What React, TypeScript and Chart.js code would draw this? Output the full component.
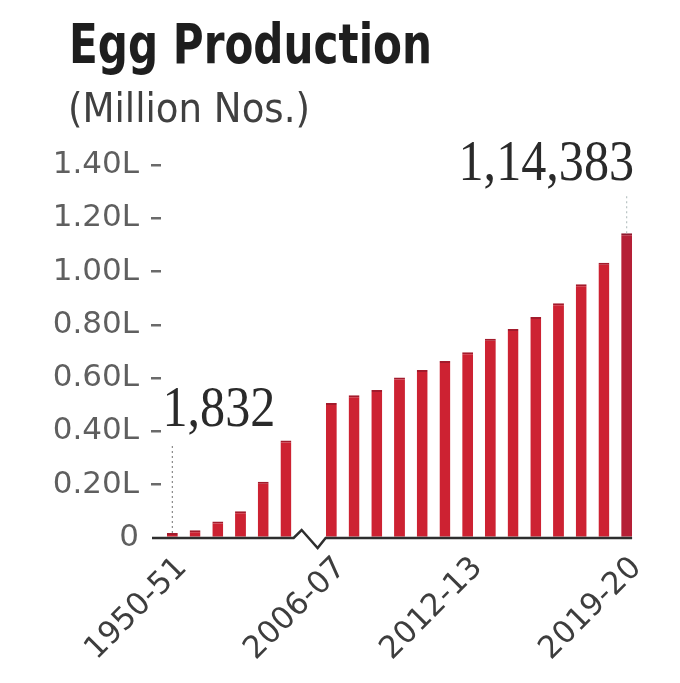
import React, { useEffect, useRef } from "react";
import { Chart, registerables } from "chart.js";

Chart.register(...registerables);

// ---- data ----
const categories = [
  "1950-51", "1960-61", "1970-71", "1980-81", "1990-91", "2000-01", "",
  "2006-07", "2007-08", "2008-09", "2009-10", "2010-11", "2011-12", "2012-13",
  "2013-14", "2014-15", "2015-16", "2016-17", "2017-18", "2018-19", "2019-20",
];
const eggProduction = [
  1832, 2881, 6172, 10060, 21101, 36632, null,
  50663, 53583, 55562, 60267, 63024, 66450, 69731,
  74752, 78484, 82929, 88139, 95217, 103318, 114383,
];
const shownLabels = ["1950-51", "2006-07", "2012-13", "2019-20"];
const yTicks = [0, 20000, 40000, 60000, 80000, 100000, 120000, 140000];
const annotationCategories = ["1950-51", "2019-20"];
const annotationTexts = ["1,832", "1,14,383"];
const annotationLevels = [42000, 134500];
const titleText = "Egg Production";
const subtitleText = "(Million Nos.)";

const Y_TICK_LEN = 10;

const overlayPlugin = {
  id: "overlay",
  afterDatasetsDraw(chart: any) {
    const { ctx, chartArea, scales } = chart;
    const xs = scales.x;
    const ys = scales.y;
    const meta = chart.getDatasetMeta(0);
    const base = ys.getPixelForValue(0);

    // baseline with break
    const gapIdx = categories.indexOf("");
    const gx = xs.getPixelForValue(gapIdx);
    const lastBar = meta.data[categories.length - 1];
    const x0 = chartArea.left - Y_TICK_LEN + 1;
    const x1 = lastBar.x + lastBar.width / 2;
    ctx.save();
    ctx.strokeStyle = "#2e2e2e";
    ctx.lineWidth = 2.5;
    ctx.lineJoin = "miter";
    ctx.beginPath();
    ctx.moveTo(x0, base);
    ctx.lineTo(gx - 15, base);
    ctx.lineTo(gx - 7, base - 8);
    ctx.lineTo(gx + 9, base + 10);
    ctx.lineTo(gx + 17, base);
    ctx.lineTo(x1, base);
    ctx.stroke();
    ctx.restore();

    // annotations
    annotationCategories.forEach((cat, i) => {
      const idx = categories.indexOf(cat);
      const bar = meta.data[idx];
      const ly = ys.getPixelForValue(annotationLevels[i]);
      const barTop = ys.getPixelForValue(eggProduction[idx] as number);
      ctx.save();
      ctx.strokeStyle = i === 0 ? "#8a8a8a" : "#b9c4c4";
      ctx.lineWidth = 1.2;
      ctx.setLineDash([2, 3]);
      ctx.beginPath();
      ctx.moveTo(bar.x, barTop);
      ctx.lineTo(bar.x, ly + (i === 0 ? 18 : 15));
      ctx.stroke();
      ctx.restore();

      ctx.save();
      ctx.font = '57px "Liberation Serif", "DejaVu Serif", serif';
      ctx.fillStyle = "#2a2a2a";
      ctx.textBaseline = "alphabetic";
      const left = i === 0;
      ctx.textAlign = left ? "left" : "right";
      const ax = left ? bar.x - bar.width + 1 : bar.x + bar.width / 2 + 2;
      ctx.translate(ax, ly);
      ctx.scale(0.88, 1);
      ctx.fillText(annotationTexts[i], 0, 0);
      ctx.restore();
    });
  },
  afterDraw(chart: any) {
    const { ctx } = chart;
    const drawFit = (text: string, font: string, color: string, x: number, y: number, w: number) => {
      ctx.save();
      ctx.font = font;
      ctx.fillStyle = color;
      ctx.textAlign = "left";
      ctx.textBaseline = "alphabetic";
      const mw = ctx.measureText(text).width;
      ctx.translate(x, y);
      ctx.scale(w / mw, 1);
      ctx.fillText(text, 0, 0);
      ctx.restore();
    };
    drawFit(titleText, 'bold 55px "DejaVu Sans Condensed", "DejaVu Sans", sans-serif', "#1e1e1e", 69, 63, 363);
    drawFit(subtitleText, '40px "DejaVu Sans Condensed", "DejaVu Sans", sans-serif', "#404040", 68, 122, 242);
  },
};

export default function App() {
  const ref = useRef<HTMLCanvasElement | null>(null);
  useEffect(() => {
    if (!ref.current) return;
    const chart = new Chart(ref.current, {
      type: "bar",
      data: {
        labels: categories,
        datasets: [
          {
            data: eggProduction as any,
            backgroundColor: (c: any) => (c.dataIndex === categories.length - 1 ? "#b51f36" : "#cd2232"),
            borderColor: (c: any) => (c.dataIndex === categories.length - 1 ? "#8e1a2f" : "#a31b2c"),
            borderWidth: { top: 2, left: 0, right: 0, bottom: 0 } as any,
            borderSkipped: "bottom",
            barPercentage: 0.48,
            categoryPercentage: 1,
          },
        ],
      },
      options: {
        responsive: false,
        animation: false,
        layout: { padding: { top: 165, right: 42, left: 0, bottom: 0 } },
        plugins: {
          legend: { display: false },
          tooltip: { enabled: false },
          title: { display: false },
        },
        scales: {
          x: {
            offset: true,
            grid: { display: false, drawTicks: false },
            border: { display: false },
            afterFit: (s: any) => { s.height = 145; },
            ticks: {
              autoSkip: false,
              minRotation: 45,
              maxRotation: 45,
              padding: 12,
              labelOffset: 10,
              color: "#3d3d3d",
              font: { family: '"DejaVu Sans", sans-serif', size: 31 },
              callback: (_v: any, i: number) => (shownLabels.includes(categories[i]) ? categories[i] : ""),
            },
          },
          y: {
            min: 0,
            max: 140000,
            afterFit: (s: any) => { s.width = 161; },
            afterBuildTicks: (s: any) => { s.ticks = yTicks.map((v) => ({ value: v })); },
            border: { display: false },
            grid: {
              drawOnChartArea: false,
              drawTicks: true,
              tickLength: Y_TICK_LEN,
              lineWidth: 2.5,
              tickColor: (c: any) => (c.tick && c.tick.value === 0 ? "rgba(0,0,0,0)" : "#6a6a6a"),
            },
            ticks: {
              padding: 12,
              color: "#5f5f5f",
              font: { family: '"DejaVu Sans", sans-serif', size: 31 },
              callback: (v: any) => (Number(v) === 0 ? "0" : (Number(v) / 100000).toFixed(2) + "L"),
            },
          },
        },
      },
      plugins: [overlayPlugin],
    });
    return () => chart.destroy();
  }, []);
  return (
    <div style={{ position: "absolute", left: 0, top: 0, width: 680, height: 683, background: "#fff" }}>
      <canvas ref={ref} width={680} height={683} style={{ display: "block" }} />
    </div>
  );
}
